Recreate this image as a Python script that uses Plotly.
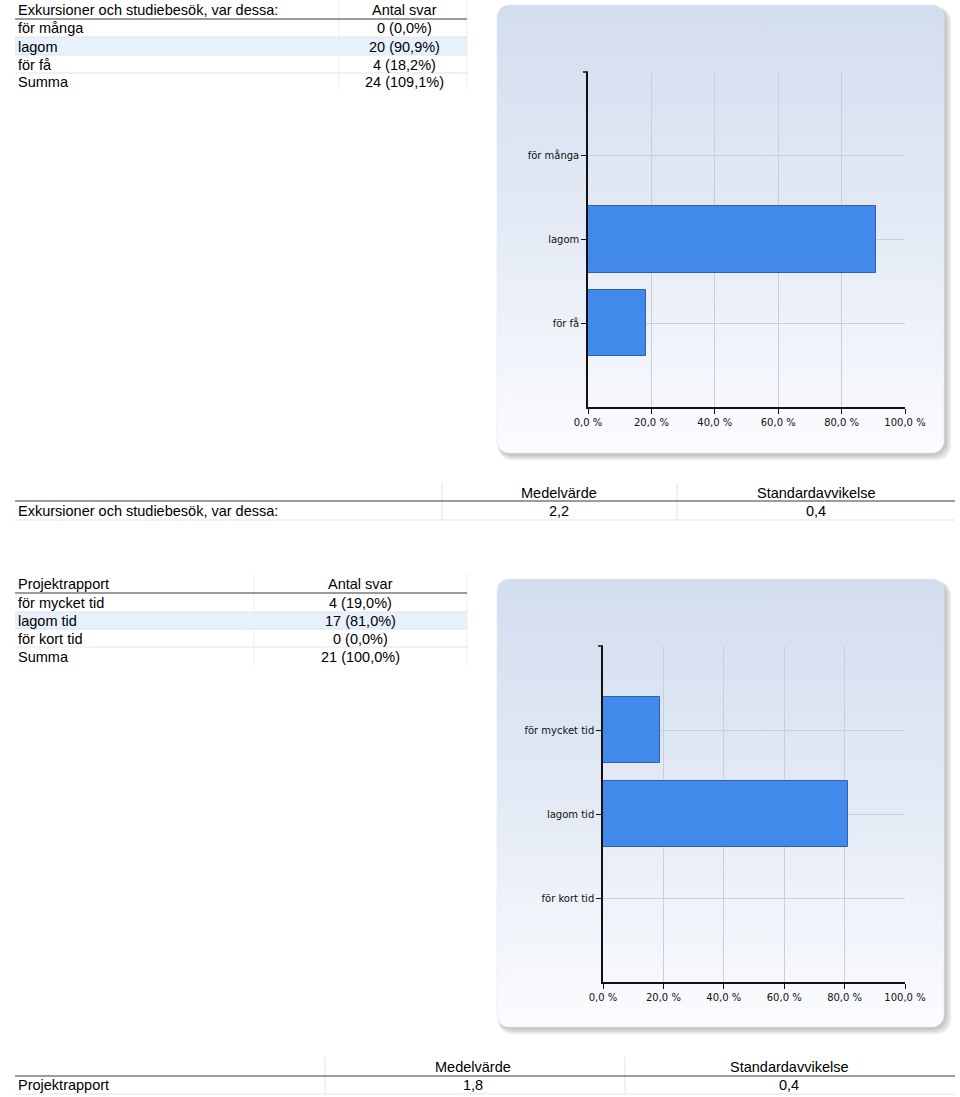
import math
import plotly.graph_objects as go

# ---------------- data ----------------
t1_title = "Exkursioner och studiebesök, var dessa:"
t1_cats = ["för många", "lagom", "för få"]
t1_counts = [0, 20, 4]
t1_pcts = [0.0, 90.9, 18.2]
t1_sum = "24 (109,1%)"
t1_mean = "2,2"
t1_sd = "0,4"

t2_title = "Projektrapport"
t2_cats = ["för mycket tid", "lagom tid", "för kort tid"]
t2_counts = [4, 17, 0]
t2_pcts = [19.0, 81.0, 0.0]
t2_sum = "21 (100,0%)"
t2_mean = "1,8"
t2_sd = "0,4"

x_tickvals = [0, 20, 40, 60, 80, 100]
x_ticktext = ["0,0 %", "20,0 %", "40,0 %", "60,0 %", "80,0 %", "100,0 %"]

hdr_count = "Antal svar"
hdr_sum = "Summa"
hdr_mean = "Medelvärde"
hdr_sd = "Standardavvikelse"

# ---------------- helpers ----------------
W, H = 960, 1097


def X(px):
    return px / W


def Y(py):
    return 1 - py / H


def fmt(c, p):
    return f"{c} ({p:.1f}%)".replace(".", ",")


def rr(x0, y0, x1, y1, r, n=10):
    pts = []
    corners = [(x1 - r, y0 + r, -90, 0), (x1 - r, y1 - r, 0, 90),
               (x0 + r, y1 - r, 90, 180), (x0 + r, y0 + r, 180, 270)]
    for cx, cy, a0, a1 in corners:
        for k in range(n + 1):
            a = math.radians(a0 + (a1 - a0) * k / n)
            pts.append((cx + r * math.cos(a), cy + r * math.sin(a)))
    pts.append(pts[0])
    return [p[0] for p in pts], [p[1] for p in pts]


fig = go.Figure()

# ---------------- chart panels (pixel-space overlay axis) ----------------
panels = [(497, 5, 944, 453), (497, 579, 944, 1027)]
for (x0, y0, x1, y1) in panels:
    for k in (7, 5, 3):
        sx, sy = rr(x0 + 1, y0 + 2, x1 + k, y1 + k, 14)
        fig.add_trace(go.Scatter(x=sx, y=sy, mode="lines", fill="toself",
                                 fillcolor="rgba(60,60,60,0.10)",
                                 line=dict(width=0), hoverinfo="skip",
                                 xaxis="x", yaxis="y"))
    px, py = rr(x0, y0, x1, y1, 12)
    fig.add_trace(go.Scatter(
        x=px, y=py, mode="lines", fill="toself",
        fillgradient=dict(type="vertical", start=y0, stop=y1,
                          colorscale=[[0, "#d2ddee"], [0.55, "#e6ecf6"], [1, "#fbfcfe"]]),
        line=dict(width=0.6, color="#e2e8f2"), hoverinfo="skip",
        xaxis="x", yaxis="y"))

# ---------------- bars ----------------
bar_color = "#4189eb"
bar_line = "#2e62b0"
fig.add_trace(go.Bar(x=t1_pcts, y=t1_cats, orientation="h", width=0.79,
                     marker=dict(color=bar_color, line=dict(color=bar_line, width=1)),
                     xaxis="x2", yaxis="y2", hoverinfo="skip"))
fig.add_trace(go.Bar(x=t2_pcts, y=t2_cats, orientation="h", width=0.79,
                     marker=dict(color=bar_color, line=dict(color=bar_line, width=1)),
                     xaxis="x3", yaxis="y3", hoverinfo="skip"))

tick_font = dict(family="DejaVu Sans", size=10, color="#111111")
grid_col = "#c9ced9"


def xax(dom, anchor):
    return dict(domain=dom, anchor=anchor, range=[0, 100], tickmode="array",
                tickvals=x_tickvals, ticktext=x_ticktext, showgrid=True,
                gridcolor=grid_col, gridwidth=1, showline=True, linecolor="#111111",
                linewidth=1.5, ticks="outside", ticklen=5, tickcolor="#111111",
                zeroline=False, tickfont=tick_font, fixedrange=True, automargin=False)


def yax(dom, anchor, cats):
    return dict(domain=dom, anchor=anchor, type="category", categoryorder="array",
                categoryarray=cats, range=[3, -1], showgrid=True, gridcolor=grid_col,
                gridwidth=1, showline=True, linecolor="#111111", linewidth=1.5,
                ticks="outside", ticklen=5, tickcolor="#111111", zeroline=False,
                tickfont=tick_font, fixedrange=True, automargin=False)


shapes = []
ann = []


def line(x0, y0, x1, y1, color, width=1):
    shapes.append(dict(type="line", xref="paper", yref="paper",
                       x0=X(x0), y0=Y(y0), x1=X(x1), y1=Y(y1),
                       line=dict(color=color, width=width)))


def rect(x0, y0, x1, y1, color):
    shapes.append(dict(type="rect", xref="paper", yref="paper",
                       x0=X(x0), y0=Y(y0), x1=X(x1), y1=Y(y1),
                       fillcolor=color, line=dict(width=0), layer="below"))


def text(s, x, y, anchor="left"):
    ann.append(dict(text=s, x=X(x), y=Y(y), xref="paper", yref="paper",
                    xanchor=anchor, yanchor="middle", showarrow=False,
                    font=dict(family="Liberation Sans, Arial", size=14.5, color="#000000")))


dark = "#3a3a3a"
light = "#dfe3e8"
faint = "#eeeeee"
blue_row = "#e6f1fc"
LX = 15.5

# ---------- table 1 (counts) ----------
rect(15, 37, 467, 55, blue_row)
line(339, 0, 339, 90, faint)
line(467, 0, 467, 90, faint)
line(15, 19, 467, 19, dark, 1.2)
for yy in (37, 55, 73):
    line(15, yy, 467, yy, light)
text(t1_title, LX, 10)
text(hdr_count, 404, 10, "center")
rows1 = [(c, fmt(n, p)) for c, n, p in zip(t1_cats, t1_counts, t1_pcts)] + [(hdr_sum, t1_sum)]
for i, (lab, val) in enumerate(rows1):
    yy = 28.5 + 18 * i
    text(lab, LX, yy)
    text(val, 404, yy, "center")

# ---------- stats table 1 ----------
line(442, 483, 442, 520, light)
line(677, 483, 677, 520, light)
line(15, 501, 955, 501, dark, 1.2)
line(15, 520, 955, 520, light)
text(hdr_mean, 559, 492.5, "center")
text(hdr_sd, 816, 492.5, "center")
text(t1_title, LX, 511)
text(t1_mean, 559, 511, "center")
text(t1_sd, 816, 511, "center")

# ---------- table 2 (counts) ----------
rect(15, 612, 467, 629, blue_row)
line(254, 573, 254, 665, faint)
line(467, 573, 467, 665, faint)
line(15, 593, 467, 593, dark, 1.2)
for yy in (612, 629, 647):
    line(15, yy, 467, yy, light)
text(t2_title, LX, 584)
text(hdr_count, 360, 584, "center")
rows2 = [(c, fmt(n, p)) for c, n, p in zip(t2_cats, t2_counts, t2_pcts)] + [(hdr_sum, t2_sum)]
for i, (lab, val) in enumerate(rows2):
    yy = 602.5 + 18 * i
    text(lab, LX, yy)
    text(val, 360, yy, "center")

# ---------- stats table 2 ----------
line(325, 1057, 325, 1094, light)
line(625, 1057, 625, 1094, light)
line(15, 1076, 955, 1076, dark, 1.2)
line(15, 1094, 955, 1094, light)
text(hdr_mean, 473, 1067, "center")
text(hdr_sd, 789, 1067, "center")
text(t2_title, LX, 1085)
text(t2_mean, 473, 1085, "center")
text(t2_sd, 789, 1085, "center")

# extra top tick marks on the category axes
line(583, 72, 588, 72, "#111111", 1.5)
line(598, 646, 603, 646, "#111111", 1.5)

fig.update_layout(
    template="none",
    width=W, height=H, margin=dict(l=0, r=0, t=0, b=0, pad=0, autoexpand=False),
    paper_bgcolor="white", plot_bgcolor="rgba(0,0,0,0)",
    showlegend=False, hovermode=False, bargap=0,
    xaxis=dict(domain=[0, 1], range=[0, W], visible=False, fixedrange=True, automargin=False),
    yaxis=dict(domain=[0, 1], range=[H, 0], visible=False, fixedrange=True, automargin=False),
    xaxis2=xax([X(588), X(905)], "y2"),
    yaxis2=yax([Y(407), Y(72)], "x2", t1_cats),
    xaxis3=xax([X(603), X(905)], "y3"),
    yaxis3=yax([Y(982), Y(646)], "x3", t2_cats),
    shapes=shapes, annotations=ann,
)

fig.write_html("out.html")
